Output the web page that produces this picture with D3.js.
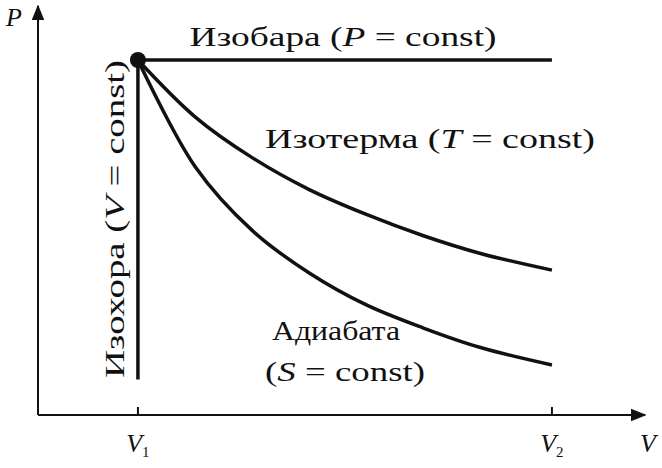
<!DOCTYPE html>
<html><head><meta charset="utf-8">
<script src="https://cdn.jsdelivr.net/npm/d3@7"></script>
<style>body{margin:0;background:#fff}text{font-family:"Liberation Serif","DejaVu Serif",serif;fill:#111}</style>
</head><body><svg id="c" width="662" height="468"></svg>
<script>
const V = [1, 1.2, 1.4, 1.6, 1.8, 2.0, 2.2, 2.45];
const isotherm = [1, 0.84, 0.725, 0.635, 0.565, 0.505, 0.455, 0.408];
const adiabat = [1, 0.70, 0.52, 0.40, 0.31, 0.245, 0.19, 0.141];
const isobar = [[1, 1], [2.45, 1]];
const isochore = [[1, 1], [1, 0.1]];
const ticks = [{v: 1, sub: "1"}, {v: 2.45, sub: "2"}];

const svg = d3.select("#c");
const x = d3.scaleLinear().domain([0.65, 2.776]).range([38, 645]);
const y = d3.scaleLinear().domain([0, 1]).range([415, 60]);
const k = "#111";
svg.append("defs").append("marker").attr("id","ar").attr("viewBox","0 0 10 10").attr("refX",9).attr("refY",5)
  .attr("markerUnits","userSpaceOnUse").attr("orient","auto")
  .attr("markerWidth",16).attr("markerHeight",16)
  .append("path").attr("d","M0,1 L10,5 L0,9 Z").attr("fill",k);
svg.append("line").attr("x1",x(0.65)).attr("y1",y(0)).attr("x2",x(2.776)).attr("y2",y(0)).attr("stroke",k).attr("stroke-width",2).attr("marker-end","url(#ar)");
svg.append("line").attr("x1",x(0.65)).attr("y1",y(0)).attr("x2",x(0.65)).attr("y2",6).attr("stroke",k).attr("stroke-width",2).attr("marker-end","url(#ar)");
ticks.forEach(t=>{
  svg.append("line").attr("x1",x(t.v)).attr("x2",x(t.v)).attr("y1",y(0)).attr("y2",y(0)-8).attr("stroke",k).attr("stroke-width",2);
  const tx=svg.append("text").attr("x",x(t.v)).attr("y",452).attr("text-anchor","middle").attr("font-size",26);
  tx.append("tspan").attr("font-style","italic").text("V");
  tx.append("tspan").attr("font-size",15).attr("dy",5).text(t.sub);
});
svg.append("text").attr("x",6).attr("y",26).attr("font-size",26).attr("font-style","italic").text("P");
svg.append("text").attr("x",640).attr("y",452).attr("font-size",26).attr("font-style","italic").text("V");

const line = d3.line().x(d=>x(d[0])).y(d=>y(d[1])).curve(d3.curveCatmullRom);
[V.map((v,i)=>[v,isotherm[i]]), V.map((v,i)=>[v,adiabat[i]]), isobar, isochore].forEach(d=>
  svg.append("path").attr("d",line(d)).attr("fill","none").attr("stroke",k).attr("stroke-width",3.5));
svg.append("circle").attr("cx",x(1)).attr("cy",y(1)).attr("r",8).attr("fill",k);

function lab(px,py,parts,len,rot){
  const t=svg.append("text").attr("font-size",28).attr("text-anchor","middle")
    .attr("textLength",len).attr("lengthAdjust","spacingAndGlyphs");
  if(rot) t.attr("transform",`translate(${px},${py}) rotate(-90)`); else t.attr("x",px).attr("y",py);
  parts.forEach(p=>t.append("tspan").attr("font-style",p[1]?"italic":null).text(p[0]));
}
lab(343,46,[["Изобара ("],["P",1],[" = const)"]],307);
lab(430,148,[["Изотерма ("],["T",1],[" = const)"]],330);
lab(336,340,[["Адиабата"]],128);
lab(345,381,[["("],["S",1],[" = const)"]],160);
lab(124,219,[["Изохора ("],["V",1],[" = const)"]],318,true);
</script></body></html>
